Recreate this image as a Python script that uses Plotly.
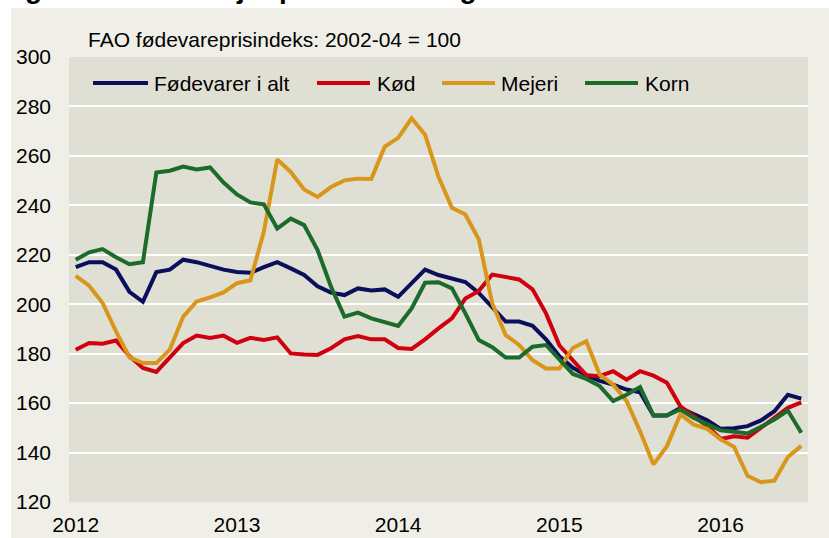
import pandas as pd
import plotly.graph_objects as go

# ---------------- data ----------------
months = [d.strftime("%Y-%m") for d in pd.date_range("2012-01-01", periods=55, freq="MS")]

foedevarer = [215, 217, 217, 214, 205, 201, 213, 214, 218, 217, 215.5, 214,
              213, 212.7, 215, 217, 214.5, 211.8, 207.3, 204.7, 203.7, 206.4, 205.6, 206,
              203, 208.5, 214, 211.8, 210.4, 209, 204.6, 199, 193, 193, 191.3, 185.8,
              179, 174.3, 171.3, 169, 167.5, 165.5, 164.4, 155, 155, 158, 155.4, 153.1,
              149.6, 149.8, 150.7, 153, 156.7, 163.4, 161.8]

koed = [181.6, 184.3, 184, 185.3, 179, 174.2, 172.6, 178.2, 184.3, 187.3, 186.3, 187.3,
        184.4, 186.4, 185.5, 186.6, 180.1, 179.7, 179.5, 182.2, 185.8, 187.1, 185.8, 185.8,
        182.3, 181.9, 185.8, 190.2, 194.3, 202.3, 205.4, 212, 210.8, 210, 206, 196.3,
        183.3, 177, 171.3, 170.9, 172.9, 169.5, 172.9, 171.1, 168.2, 158.7, 154.7, 150.7,
        145.5, 146.6, 146, 150, 154, 158.1, 160.3]

mejeri = [211.5, 207.5, 200.5, 189, 178.5, 176.2, 176.2, 181.6, 195, 201.1, 202.8, 204.8,
          208.5, 209.7, 229.3, 258.6, 253.5, 246.4, 243.4, 247.4, 250.1, 250.8, 250.7, 263.8,
          267.3, 275.2, 268.6, 251.5, 239, 236.3, 226.2, 200.3, 187.5, 183.5, 177.4, 174,
          174, 182.3, 185, 171.5, 167.5, 160.8, 148.6, 135.2, 142.6, 155.4, 151.3, 149.6,
          145.3, 142.3, 130.6, 128, 128.6, 138.2, 142.7]

korn = [218, 221, 222.3, 219, 216.2, 217, 253.3, 254, 255.7, 254.5, 255.3, 249.2,
        244.4, 241.2, 240.4, 230.6, 234.6, 232, 221.9, 207.1, 195, 196.6, 194.3, 192.9,
        191.2, 198.3, 208.7, 208.9, 206.4, 196.3, 185.5, 182.6, 178.4, 178.4, 182.8, 183.5,
        177.5, 171.8, 169.8, 166.9, 160.8, 163.4, 166.5, 155, 155, 157.4, 154, 151.3,
        149, 148.4, 147.7, 150.4, 153.4, 157, 148]

series_names = ["Fødevarer i alt", "Kød", "Mejeri", "Korn"]
series_colors = ["#0a0f5c", "#d0000f", "#d8961a", "#1b6b2a"]
series_values = [foedevarer, koed, mejeri, korn]

year_ticks = ["2012-01", "2013-01", "2014-01", "2015-01", "2016-01"]
year_labels = ["2012", "2013", "2014", "2015", "2016"]
y_ticks = [120, 140, 160, 180, 200, 220, 240, 260, 280, 300]

subtitle = "FAO fødevareprisindeks: 2002-04 = 100"
title = "Figur 1. FAO's mejeriprisindeks stiger"

# ---------------- layout geometry (pixels) ----------------
W, H = 829, 538
PL, PR, PT, PB = 69, 808, 57, 502
FONT = "Liberation Sans, Arial, sans-serif"


def px(x):
    return (x - PL) / (PR - PL)


def py(y):
    return (PB - y) / (PB - PT)


fig = go.Figure()
for name, color, vals in zip(series_names, series_colors, series_values):
    fig.add_trace(go.Scatter(x=months, y=vals, mode="lines", name=name,
                             line=dict(color=color, width=4), showlegend=False))

# manual legend (long line samples as in the reference)
legend_lines = [(93, 148, 152), (317, 370, 375), (442, 495, 499), (585, 638, 643)]
LEG_Y = 83
shapes = [
    # white outer strips around the light panel
    dict(type="rect", xref="paper", yref="paper", x0=px(0), x1=px(11), y0=py(H), y1=py(0),
         fillcolor="white", line=dict(width=0), layer="below"),
    dict(type="rect", xref="paper", yref="paper", x0=px(0), x1=px(W), y0=py(8), y1=py(0),
         fillcolor="white", line=dict(width=0), layer="below"),
]
annotations = []
for (x0, x1, xt), name, color in zip(legend_lines, series_names, series_colors):
    shapes.append(dict(type="line", xref="paper", yref="paper", x0=px(x0), x1=px(x1),
                       y0=py(LEG_Y), y1=py(LEG_Y), line=dict(color=color, width=4)))
    annotations.append(dict(text=name, xref="paper", yref="paper", x=px(xt), y=py(LEG_Y),
                            xanchor="left", yanchor="middle", showarrow=False,
                            font=dict(family=FONT, size=21, color="black")))

annotations.append(dict(text=subtitle, xref="paper", yref="paper", x=px(86), y=py(40),
                        xanchor="left", yanchor="middle", showarrow=False,
                        font=dict(family=FONT, size=21, color="black")))
annotations.append(dict(text="<b>" + title + "</b>", xref="paper", yref="paper", x=px(-2), y=py(6),
                        xanchor="left", yanchor="bottom", showarrow=False,
                        font=dict(family=FONT, size=28, color="black")))

fig.update_layout(
    width=W, height=H,
    margin=dict(l=PL, r=W - PR, t=PT, b=H - PB, pad=0, autoexpand=False),
    paper_bgcolor="#efefe8",
    plot_bgcolor="#e0dfd4",
    font=dict(family=FONT, size=21, color="black"),
    shapes=shapes,
    annotations=annotations,
    showlegend=False,
)
fig.update_xaxes(type="category", range=[-0.5, 54.5], tickmode="array",
                 tickvals=year_ticks, ticktext=year_labels, showgrid=False,
                 zeroline=False, showline=False, ticks="", ticklabelstandoff=8,
                 automargin=False,
                 tickfont=dict(family=FONT, size=21, color="black"))
fig.update_yaxes(range=[120, 300], tickmode="array", tickvals=y_ticks,
                 showgrid=True, gridcolor="white", gridwidth=2, zeroline=False,
                 showline=False, ticks="", ticklabelstandoff=17, automargin=False,
                 tickfont=dict(family=FONT, size=21, color="black"))

fig.write_html("out.html", config={"displayModeBar": False},
               post_script="document.body.style.margin='0';document.body.style.overflow='hidden';")
